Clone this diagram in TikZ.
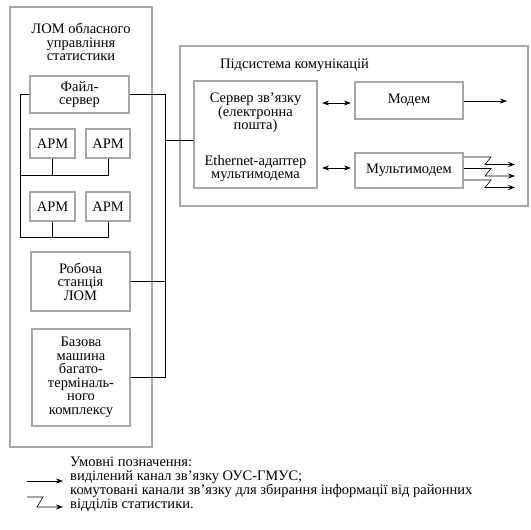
\documentclass[tikz,border=0pt]{standalone}
\usepackage{fontspec}
\setmainfont{Liberation Serif}
\usetikzlibrary{arrows.meta}
\begin{document}
\begin{tikzpicture}[x=1pt,y=-1pt,
  every node/.style={font=\fontsize{14.5}{13.5}\selectfont, inner sep=0pt},
  box/.style={draw=gray!70, line width=2.2pt, fill=white, align=center},
  outer/.style={draw=gray!70, line width=1.6pt},
  txt/.style={align=center},
  wire/.style={draw=black, line width=0.6pt},
  arr/.style={wire, -{Stealth[length=7pt,width=5pt]}},
  darr/.style={wire, {Stealth[length=7pt,width=5pt]}-{Stealth[length=7pt,width=5pt]}}
]
\useasboundingbox (0,0) rectangle (531,530);
% outer boxes
\node[outer, minimum width=142pt, minimum height=440pt] (lom) at (81,227) {};
\node[txt] (lomt) at (81,42) {ЛОМ обласного\\управління\\статистики};
\node[outer, minimum width=348pt, minimum height=160pt] (comm) at (354,126) {};
\node[anchor=west] (commt) at (220,65) {Підсистема комунікацій};
% left boxes
\node[box, minimum width=99pt, minimum height=37pt] (fs) at (79.5,94.5) {Файл-\\сервер};
\node[box, minimum width=45pt, minimum height=29pt] (arm1) at (52.5,143.5) {АРМ};
\node[box, minimum width=44pt, minimum height=29pt] (arm2) at (108,143.5) {АРМ};
\node[box, minimum width=45pt, minimum height=29pt] (arm3) at (52.5,206.5) {АРМ};
\node[box, minimum width=44pt, minimum height=29pt] (arm4) at (108,206.5) {АРМ};
\node[box, minimum width=99pt, minimum height=59pt] (ws) at (80.5,281.5) {Робоча\\станція\\ЛОМ};
\node[box, minimum width=98pt, minimum height=97pt] (bm) at (81,377.5) {Базова\\машина\\багато-\\терміналь-\\ного\\комплексу};
% right boxes
\node[box, minimum width=123pt, minimum height=107pt] (srv) at (255.5,134.5) {};
\node[txt] (srvt1) at (255.5,113) {Сервер зв’язку\\(електронна\\пошта)};
\node[txt] (srvt2) at (255.5,168.5) {Ethernet-адаптер\\мультимодема};
\node[box, minimum width=108pt, minimum height=37pt] (modem) at (409,100.5) {Модем};
\node[box, minimum width=108pt, minimum height=35pt] (mm) at (409,170.5) {Мультимодем};
% bus coordinates
\coordinate (bl1) at (20,175);
\coordinate (bl2) at (20,237);
\coordinate (rb) at (165,377.5);
\coordinate (rj) at (165,140);
% left bus
\draw[wire] (fs.west) -| (bl2);
\draw[wire] (arm1.south) |- (bl1) ;
\draw[wire] (bl1) -| (arm2.south);
\draw[wire] (arm3.south) |- (bl2);
\draw[wire] (bl2) -| (arm4.south);
% right bus
\draw[wire] (fs.east) -| (rb);
\draw[wire] (bm.east) -- (rb);
\draw[wire] (ws.east) -- (ws.east -| rb);
\draw[wire] (rj) -- (srv.west |- rj);
% arrows in comm subsystem
\draw[darr] ([xshift=4pt]srv.east |- 0,103) -- ([xshift=-3pt]modem.west |- 0,103);
\draw[darr] ([xshift=4pt]srv.east |- 0,168) -- ([xshift=-3pt]mm.west |- 0,168);
\coordinate (mout) at (507,101);
\draw[arr] (modem.east |- mout) -- (mout);
\foreach \yy [count=\i] in {157,168.5,180}{
  \coordinate (z\i) at (515,\yy+7.5);
  \draw[arr] (mm.east |- 0,\yy) -- (491,\yy) -- (485,\yy+7.5) -- (z\i);
}
% legend
\node[anchor=north west, align=left, font=\fontsize{14.5}{14}\selectfont] (leg) at (70,457)
  {Умовні позначення:\\виділений канал зв’язку ОУС-ГМУС;\\комутовані канали зв’язку для збирання інформації від районних\\відділів статистики.};
\coordinate (la1) at (27,481);
\coordinate (la2) at (63,481);
\draw[arr] (la1) -- (la2);
\coordinate (lz1) at (27,497);
\coordinate (lz2) at (63,507);
\draw[arr] (lz1) -- (43,497) -- (37,507) -- (lz2);
\end{tikzpicture}
\end{document}
